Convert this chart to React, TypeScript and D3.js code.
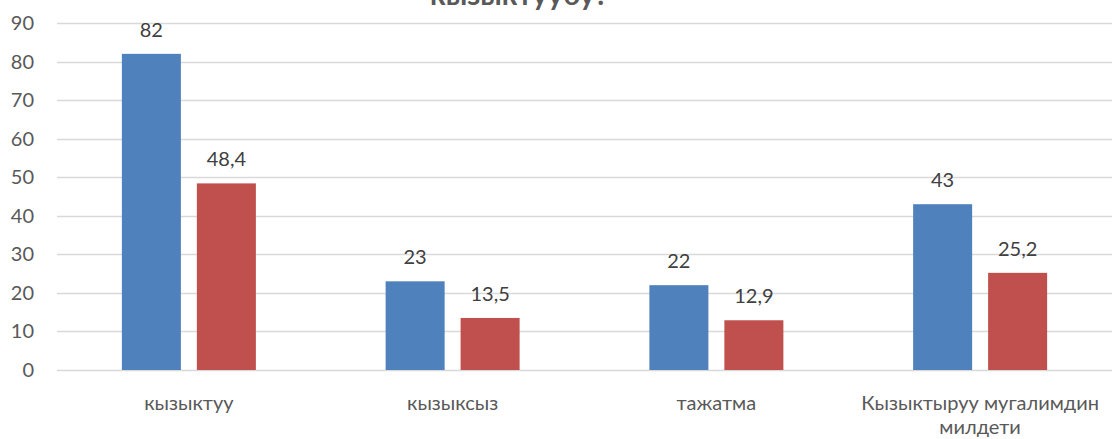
import * as d3 from 'd3';
import { useEffect, useRef } from 'react';

const categories = ['кызыктуу', 'кызыксыз', 'тажатма', 'Кызыктыруу мугалимдин милдети'];
const series1 = [82, 23, 22, 43];
const series2 = [48.4, 13.5, 12.9, 25.2];
const yTicks = [0, 10, 20, 30, 40, 50, 60, 70, 80, 90];
const title = 'кызыктуубу?';

export default function App() {
  const svgRef = useRef<SVGSVGElement>(null);

  useEffect(() => {
    const width = 1114;
    const height = 439;
    const margin = { top: 23, right: 2, bottom: 69, left: 57 };
    const font = 'Lato, "Open Sans", sans-serif';

    const svg = d3.select(svgRef.current);
    svg.selectAll('*').remove();
    svg.attr('width', width).attr('height', height);

    const x = d3
      .scaleBand()
      .domain(categories)
      .range([margin.left, width - margin.right]);

    // two bars per group, 59px wide with a 16px gap
    const inner = d3
      .scaleBand()
      .domain(['a', 'b'])
      .range([0, 134])
      .paddingInner(0.213);

    const y = d3
      .scaleLinear()
      .domain([0, 90])
      .range([height - margin.bottom, margin.top]);

    // grid
    svg
      .append('g')
      .selectAll('line')
      .data(yTicks)
      .enter()
      .append('line')
      .attr('x1', margin.left)
      .attr('x2', width - margin.right)
      .attr('y1', (d) => Math.round(y(d)) + 0.5)
      .attr('y2', (d) => Math.round(y(d)) + 0.5)
      .attr('stroke', '#d9d9d9')
      .attr('stroke-width', 1.3);

    // y labels
    svg
      .append('g')
      .selectAll('text')
      .data(yTicks)
      .enter()
      .append('text')
      .attr('x', 34)
      .attr('y', (d) => y(d))
      .attr('dy', '0.35em')
      .attr('text-anchor', 'end')
      .attr('font-family', font)
      .attr('font-size', 20)
      .attr('fill', '#595959')
      .text((d) => d);

    const rows = categories.map((c, i) => ({ c, a: series1[i], b: series2[i] }));
    const groupOffset = (x.bandwidth() - 134) / 2;

    const drawSeries = (key: 'a' | 'b', color: string) => {
      const g = svg.append('g');
      g.selectAll('rect')
        .data(rows)
        .enter()
        .append('rect')
        .attr('x', (d) => x(d.c)! + groupOffset + inner(key)!)
        .attr('y', (d) => y(d[key]))
        .attr('width', inner.bandwidth())
        .attr('height', (d) => y(0) - y(d[key]))
        .attr('fill', color);
      g.selectAll('text')
        .data(rows)
        .enter()
        .append('text')
        .attr('x', (d) => x(d.c)! + groupOffset + inner(key)! + inner.bandwidth() / 2)
        .attr('y', (d) => y(d[key]) - 17)
        .attr('text-anchor', 'middle')
        .attr('font-family', font)
        .attr('font-size', 20)
        .attr('fill', '#404040')
        .text((d) => String(d[key]).replace('.', ','));
    };
    drawSeries('a', '#4f81bd');
    drawSeries('b', '#c0504d');

    // category labels, wrapped
    const catG = svg.append('g');
    categories.forEach((c) => {
      const lines = c.length > 20 ? ['Кызыктыруу мугалимдин', 'милдети'] : [c];
      const t = catG
        .append('text')
        .attr('text-anchor', 'middle')
        .attr('font-family', font)
        .attr('font-size', 20)
        .attr('fill', '#595959');
      lines.forEach((l, i) => {
        t.append('tspan')
          .attr('x', x(c)! + x.bandwidth() / 2)
          .attr('y', 410 + i * 24)
          .text(l);
      });
    });

    svg
      .append('text')
      .attr('x', 519)
      .attr('y', 5)
      .attr('text-anchor', 'middle')
      .attr('font-family', font)
      .attr('font-size', 29)
      .attr('font-weight', 'bold')
      .attr('fill', '#595959')
      .text(title);
  }, []);

  return (
    <div style={{ position: 'absolute', left: 0, top: 0 }}>
      <svg ref={svgRef}></svg>
    </div>
  );
}
